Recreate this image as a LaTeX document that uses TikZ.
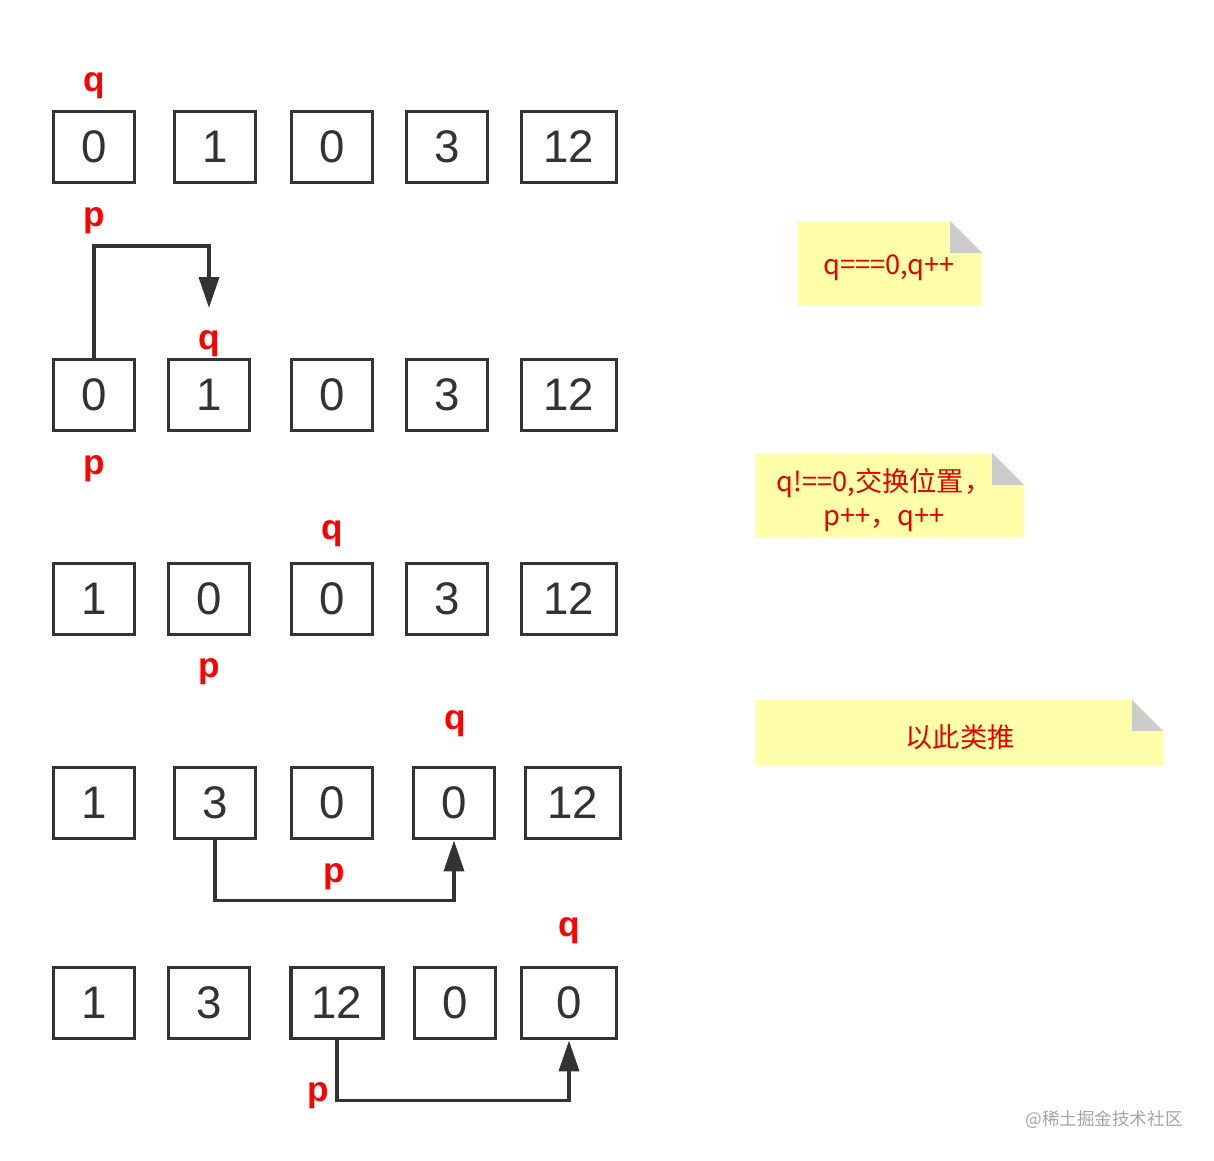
\documentclass[tikz,border=0pt]{standalone}
\usepackage{fontspec}
\setmainfont{Liberation Sans}
\newfontfamily\cjkfont{Noto Sans CJK SC}
\usepackage{tikz}
\usetikzlibrary{arrows.meta}
\definecolor{GrisCaja}{RGB}{51,51,51}
\definecolor{RojoPuntero}{RGB}{255,0,0}
\definecolor{RojoNota}{RGB}{230,0,0}
\definecolor{AmarilloNota}{RGB}{255,255,170}
\definecolor{GrisDoblez}{RGB}{204,204,204}
\definecolor{GrisMarca}{RGB}{165,165,165}

\begin{document}
\begin{tikzpicture}[x=0.02cm,y=-0.02cm,>=Latex,
  cell/.style={draw=GrisCaja,line width=2.2pt,minimum height=1.42cm,inner sep=0pt,
    text=GrisCaja,font=\fontsize{26}{30}\selectfont},
  ptr/.style={text=RojoPuntero,font=\bfseries\fontsize{20}{24}\selectfont},
  flow/.style={draw=GrisCaja,line width=2.2pt,-{Triangle[length=0.62cm,width=0.4cm]}},
  nota/.style={text=RojoNota,font=\cjkfont\fontsize{15.5}{19}\selectfont,align=center}]
  \useasboundingbox (0,0) rectangle (1214,1160);

  \foreach \x/\v/\w [count=\i] in {94/0/1.62,215/1/1.62,332/0/1.62,447/3/1.62,569/12/1.9}
    \node[cell,minimum width=\w cm] (r1c\i) at (\x,147) {\v};
  \foreach \x/\v/\w [count=\i] in {94/0/1.62,209/1/1.62,332/0/1.62,447/3/1.62,569/12/1.9}
    \node[cell,minimum width=\w cm] (r2c\i) at (\x,395) {\v};
  \foreach \x/\v/\w [count=\i] in {94/1/1.62,209/0/1.62,332/0/1.62,447/3/1.62,569/12/1.9}
    \node[cell,minimum width=\w cm] (r3c\i) at (\x,599) {\v};
  \foreach \x/\v/\w [count=\i] in {94/1/1.62,215/3/1.62,332/0/1.62,454/0/1.62,573/12/1.9}
    \node[cell,minimum width=\w cm] (r4c\i) at (\x,803) {\v};
  \foreach \x/\v/\w [count=\i] in {94/1/1.62,209/3/1.62,337/12/1.84,455/0/1.62,569/0/1.9}
    \node[cell,minimum width=\w cm] (r5c\i) at (\x,1003) {\v};

  \node[ptr] (q1) at (94,86) {q};
  \node[ptr] (p1) at (94,221) {p};
  \node[ptr] (q2) at (209,344) {q};
  \node[ptr] (p2) at (94,469) {p};
  \node[ptr] (q3) at (332,534) {q};
  \node[ptr] (p3) at (209,672) {p};
  \node[ptr] (q4) at (455,724) {q};
  \node[ptr] (p4) at (334,877) {p};
  \node[ptr] (q5) at (569,931) {q};
  \node[ptr] (p5) at (318,1096) {p};

  \coordinate (r2tip) at (209,308);
  \draw[flow] (r2c1.north) -- ++(0,-112) -| (r2tip);
  \draw[flow] (r4c2.south) -- ++(0,60) -| (r4c4.south);
  \draw[flow] (r5c3.south) -- ++(0,60) -| (r5c5.south);

  \fill[AmarilloNota] (797,221) -- (950,221) -- (982,253) -- (982,305) -- (797,305) -- cycle;
  \fill[GrisDoblez] (950,221) -- (950,253) -- (982,253) -- cycle;
  \node[nota] (nota1) at (889,268) {q===0,q++};

  \fill[AmarilloNota] (755,453) -- (992,453) -- (1024,485) -- (1024,537) -- (755,537) -- cycle;
  \fill[GrisDoblez] (992,453) -- (992,485) -- (1024,485) -- cycle;
  \node[nota] (nota2) at (884,500) {q!==0,交换位置，\\p++，q++};

  \fill[AmarilloNota] (755,700) -- (1132,700) -- (1163,731) -- (1163,766) -- (755,766) -- cycle;
  \fill[GrisDoblez] (1132,700) -- (1132,731) -- (1163,731) -- cycle;
  \node[nota] (nota3) at (960,737) {以此类推};

  \node[text=GrisMarca,font=\cjkfont\fontsize{10}{12}\selectfont] (marca) at (1104,1120) {@稀土掘金技术社区};
\end{tikzpicture}
\end{document}
